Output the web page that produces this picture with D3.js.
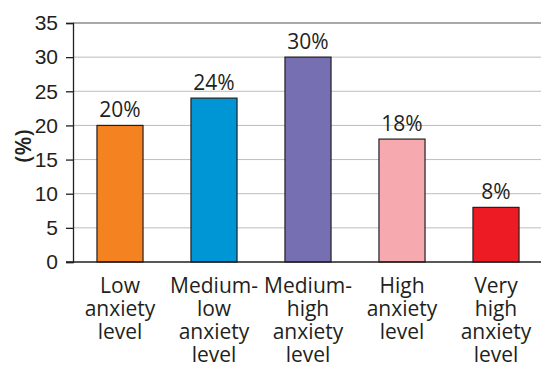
<!DOCTYPE html>
<html>
<head>
<meta charset="utf-8">
<script src="https://cdn.jsdelivr.net/npm/d3@7"></script>
<style>
  html, body { margin: 0; padding: 0; background: #fff; }
  svg { display: block; font-family: "Open Sans", "Noto Sans", sans-serif; }
</style>
</head>
<body>
<svg id="chart" width="541" height="367"></svg>
<script>
// Share of respondents by anxiety level (%)
const categories = [
  ["Low", "anxiety", "level"],
  ["Medium-", "low", "anxiety", "level"],
  ["Medium-", "high", "anxiety", "level"],
  ["High", "anxiety", "level"],
  ["Very", "high", "anxiety", "level"]
];
const values = [20, 24, 30, 18, 8];
const colors = ["#F58220", "#0096D6", "#7670B3", "#F6AAB0", "#ED1C24"];
const yTicks = [0, 5, 10, 15, 20, 25, 30, 35];
const yLabel = "(%)";

const svg = d3.select("#chart");
const plotLeft = 73, plotRight = 543, plotTop = 23, plotBottom = 262;
const textColor = "#231F20";
const fontSize = "21px";
const fontWeight = 400;

const x = d3.scaleBand()
  .domain(d3.range(values.length))
  .range([plotLeft, plotRight])
  .paddingInner(0.51)
  .paddingOuter(0.255);

const y = d3.scaleLinear().domain([0, 35]).range([plotBottom, plotTop]);

// Horizontal gridlines
svg.append("g")
  .selectAll("line")
  .data(yTicks.filter(t => t > 0))
  .join("line")
  .attr("x1", plotLeft).attr("x2", 541)
  .attr("y1", d => y(d)).attr("y2", d => y(d))
  .attr("stroke", d => d === 35 ? "#555" : "#bdbdbd")
  .attr("stroke-width", d => d === 35 ? 1.2 : 1);

// Y axis
const yAxis = svg.append("g")
  .attr("transform", `translate(${plotLeft},0)`)
  .call(d3.axisLeft(y).tickValues(yTicks).tickSize(7).tickPadding(8));
yAxis.select(".domain").attr("stroke", textColor).attr("stroke-width", 1.3);
yAxis.selectAll(".tick line").attr("stroke", textColor).attr("stroke-width", 1.3);
yAxis.selectAll(".tick text")
  .attr("fill", textColor)
  .style("font-size", fontSize)
  .style("font-weight", fontWeight);

// Bars
svg.append("g")
  .selectAll("rect")
  .data(values)
  .join("rect")
  .attr("x", (d, i) => x(i))
  .attr("width", x.bandwidth())
  .attr("y", d => y(d))
  .attr("height", d => y(0) - y(d))
  .attr("fill", (d, i) => colors[i])
  .attr("stroke", "#231F20")
  .attr("stroke-width", 1.2);

// X axis baseline
svg.append("line")
  .attr("x1", 66).attr("x2", 541)
  .attr("y1", y(0)).attr("y2", y(0))
  .attr("stroke", textColor).attr("stroke-width", 1.3);

// Value labels
svg.append("g")
  .selectAll("text")
  .data(values)
  .join("text")
  .attr("x", (d, i) => x(i) + x.bandwidth() / 2)
  .attr("y", d => y(d) - 8)
  .attr("text-anchor", "middle")
  .attr("fill", textColor)
  .style("font-size", fontSize)
  .style("font-weight", fontWeight)
  .text(d => d + "%");

// Category labels, one text per line
const catG = svg.append("g")
  .selectAll("g")
  .data(categories)
  .join("g")
  .attr("transform", (d, i) => `translate(${x(i) + x.bandwidth() / 2},293)`);
catG.selectAll("text")
  .data(d => d)
  .join("text")
  .attr("y", (d, j) => j * 23)
  .attr("text-anchor", "middle")
  .attr("fill", textColor)
  .style("font-size", fontSize)
  .style("font-weight", fontWeight)
  .text(d => d);

// Y axis title
svg.append("text")
  .attr("transform", "translate(31,146) rotate(-90)")
  .attr("text-anchor", "middle")
  .attr("fill", textColor)
  .style("font-size", "22px")
  .style("font-weight", 600)
  .text(yLabel);
</script>
</body>
</html>
